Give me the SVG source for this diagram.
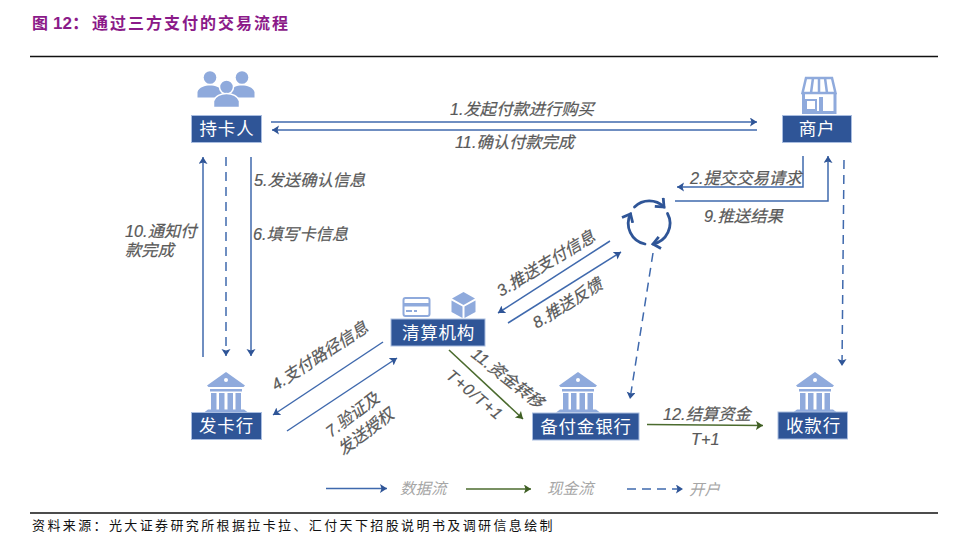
<svg xmlns="http://www.w3.org/2000/svg" width="960" height="555" viewBox="0 0 960 555">
<style>
text{font-family:"Liberation Sans","Noto Sans CJK SC",sans-serif}
.t{font-size:16.300px;font-style:italic;fill:#595959;stroke:#595959;stroke-width:.2}
.lg{font-size:15.500px;font-style:italic;fill:#a6a6a6}
.box{fill:#2f5597;stroke:#a9bde0;stroke-width:1}
.lbl{font-size:17.500px;fill:#fff;text-anchor:middle;letter-spacing:.8px}
.ic{fill:#8faadc}
.b{fill:none;stroke:#3f69ad;stroke-width:1.500}
.g{fill:none;stroke:#4b6b2e;stroke-width:1.600}
.d{stroke-dasharray:9 6}
.c{fill:none;stroke:#2f5597;stroke-width:2.800;stroke-linecap:round}
</style>
<defs>
<marker id="ab" markerUnits="userSpaceOnUse" markerWidth="10" markerHeight="10" refX="7" refY="4.500" orient="auto"><path d="M0 0L7 4.500L0 9L1.500 4.500Z" fill="#2f5597"/></marker>
<marker id="ag" markerUnits="userSpaceOnUse" markerWidth="10" markerHeight="10" refX="7" refY="4.500" orient="auto"><path d="M0 0L7 4.500L0 9L1.500 4.500Z" fill="#3f5f24"/></marker>
<marker id="cy" markerUnits="userSpaceOnUse" markerWidth="16" markerHeight="16" refX="8" refY="7" orient="auto"><path d="M1 1L8 7L1 13" fill="none" stroke="#2f5597" stroke-width="2.800"/></marker>
<symbol id="bank" overflow="visible"><path class="ic" d="M19 0L38 13.500L36.500 15H1.500L0 13.500ZM3 17h32v2.500H3ZM4 21h5.500v17H4ZM12 21h5.500v17H12ZM20.500 21h5.500v17h-5.500ZM28.500 21h5.500v17h-5.500ZM-3 40.500L1 37.500H37L41 40.500Z"/><circle cx="19" cy="8" r="2" fill="#fff"/></symbol>
</defs>
<text x="32" y="29" font-size="16" font-weight="700" fill="#8b1a89">图</text>
<text x="53" y="29" font-size="17" font-weight="700" fill="#8b1a89">12：</text>
<text x="92" y="29" font-size="16" font-weight="700" fill="#8b1a89" letter-spacing="2">通过三方支付的交易流程</text>
<path d="M30 56.500H938" stroke="#111" stroke-width="1.300" fill="none"/>
<path d="M30 513H938" stroke="#111" stroke-width="1.300" fill="none"/>
<text x="32" y="530" font-size="13" fill="#111" letter-spacing="2.380">资料来源：光大证券研究所根据拉卡拉、汇付天下招股说明书及调研信息绘制</text>

<g id="connectors">
<path class="b" d="M271 122H757" marker-end="url(#ab)"/>
<path class="b" d="M757 130H272" marker-end="url(#ab)"/>
<path class="b" d="M203 357V157" marker-end="url(#ab)"/>
<path class="b d" d="M226 157V356" marker-end="url(#ab)"/>
<path class="b" d="M251 157V356" marker-end="url(#ab)"/>
<path class="b" d="M803 156V187H677" marker-end="url(#ab)"/>
<path class="b" d="M675 201H828V156" marker-end="url(#ab)"/>
<path class="b d" d="M844 160L842 366" marker-end="url(#ab)"/>
<path class="b" d="M610 241L498 313" marker-end="url(#ab)"/>
<path class="b" d="M508 323L621 252" marker-end="url(#ab)"/>
<path class="b d" d="M653 253L630 399" marker-end="url(#ab)"/>
<path class="b" d="M383 342L273 415" marker-end="url(#ab)"/>
<path class="b" d="M287 431L397 358" marker-end="url(#ab)"/>
<path class="g" d="M449 350L523 419" marker-end="url(#ag)"/>
<path class="g" d="M647 424.500L763 425.500" marker-end="url(#ag)"/>
<path class="b" d="M326 488.500H387" marker-end="url(#ab)"/>
<path class="g" d="M466 489H531" marker-end="url(#ag)"/>
<path class="b d" d="M627 489H683" marker-end="url(#ab)"/>
</g>

<g id="edge-labels">
<text class="t" x="450" y="115">1.发起付款进行购买</text>
<text class="t" x="455" y="148">11.确认付款完成</text>
<text class="t" x="254" y="186">5.发送确认信息</text>
<text class="t" x="253" y="240">6.填写卡信息</text>
<text class="t" x="125" y="237">10.通知付</text>
<text class="t" x="125" y="256">款完成</text>
<text class="t" x="690" y="184">2.提交交易请求</text>
<text class="t" x="704" y="222">9.推送结果</text>
<text class="t" transform="translate(501 297) rotate(-31)">3.推送支付信息</text>
<text class="t" transform="translate(537 329) rotate(-32)">8.推送反馈</text>
<text class="t" transform="translate(276 391) rotate(-33)">4.支付路径信息</text>
<text class="t" transform="translate(331 438) rotate(-37)">7.验证及</text>
<text class="t" transform="translate(343 456) rotate(-37)">发送授权</text>
<text class="t" transform="translate(470 356) rotate(38)">11.资金转移</text>
<text class="t" transform="translate(445 377) rotate(40)" letter-spacing="1">T+0/T+1</text>
<text class="t" x="663" y="420">12.结算资金</text>
<text class="t" x="691" y="445">T+1</text>
<text class="lg" x="400" y="494">数据流</text>
<text class="lg" x="547" y="494">现金流</text>
<text class="lg" x="689" y="495">开户</text>
</g>

<g id="cardholder">
<circle class="ic" cx="210" cy="77.500" r="6.300"/><circle class="ic" cx="242" cy="77.500" r="6.300"/>
<path class="ic" d="M197.500 97.500V92C199 87 205 85.500 210 85.500C215 85.500 221 87 222.500 92V97.500ZM254.500 97.500V92C253 87 247 85.500 242 85.500C237 85.500 231 87 229.500 92V97.500Z"/>
<circle class="ic" cx="226.500" cy="87" r="7" stroke="#fff" stroke-width="1.500"/>
<path class="ic" d="M213.500 107.500V101C215 96 221 93.500 226.500 93.500C232 93.500 238 96 239.500 101V107.500Z" stroke="#fff" stroke-width="1.500"/>
<rect class="box" x="191.500" y="115.500" width="70" height="27"/>
<text class="lbl" x="227" y="135">持卡人</text>
</g>

<g id="merchant">
<path d="M803.500 93V112.500H835V93" fill="none" stroke="#8faadc" stroke-width="3"/>
<path d="M806 78H832L835.500 93H802.500Z" fill="#fff" stroke="#8faadc" stroke-width="2.500"/>
<path d="M813 78L811 93M819 78V93M825 78L827 93" stroke="#8faadc" stroke-width="2.500" fill="none"/>
<path d="M806 100H816V110H806Z" fill="#fff" stroke="#8faadc" stroke-width="2"/>
<rect class="ic" x="819" y="97" width="4" height="15"/>
<rect class="box" x="782.500" y="115.500" width="69" height="27"/>
<text class="lbl" x="817" y="135">商户</text>
</g>

<g id="cycle">
<path class="c" d="M634.500 207A21 21 0 0 1 664 207" marker-end="url(#cy)"/>
<path class="c" d="M667.500 213.500A21 21 0 0 1 653 244" marker-end="url(#cy)"/>
<path class="c" d="M645 244A21 21 0 0 1 630.500 214" marker-end="url(#cy)"/>
</g>

<g id="issuer">
<use href="#bank" x="207" y="372"/>
<rect class="box" x="191.500" y="412.500" width="70" height="27"/>
<text class="lbl" x="226.500" y="432">发卡行</text>
</g>

<g id="clearing">
<rect x="403.500" y="298" width="26" height="18" rx="2" fill="#fff" stroke="#8faadc" stroke-width="2"/>
<rect class="ic" x="403.500" y="303" width="26" height="3.500"/>
<rect class="ic" x="406" y="310" width="6" height="2"/><rect class="ic" x="414" y="310" width="3" height="2"/>
<path class="ic" d="M463.500 292L475 298.500L463.500 305L452 298.500ZM451.500 300.500L462.500 306.500V318L451.500 312ZM475.500 300.500V312L464.500 318V306.500Z"/>
<rect class="box" x="391" y="319" width="94" height="27"/>
<text class="lbl" x="438.500" y="339">清算机构</text>
</g>

<g id="reserve-bank">
<use href="#bank" x="559" y="372"/>
<rect class="box" x="532.500" y="413" width="106.500" height="27"/>
<text class="lbl" x="586" y="433">备付金银行</text>
</g>

<g id="payee-bank">
<use href="#bank" x="796" y="372"/>
<rect class="box" x="778" y="412" width="69.500" height="27"/>
<text class="lbl" x="813.500" y="432">收款行</text>
</g>
</svg>
